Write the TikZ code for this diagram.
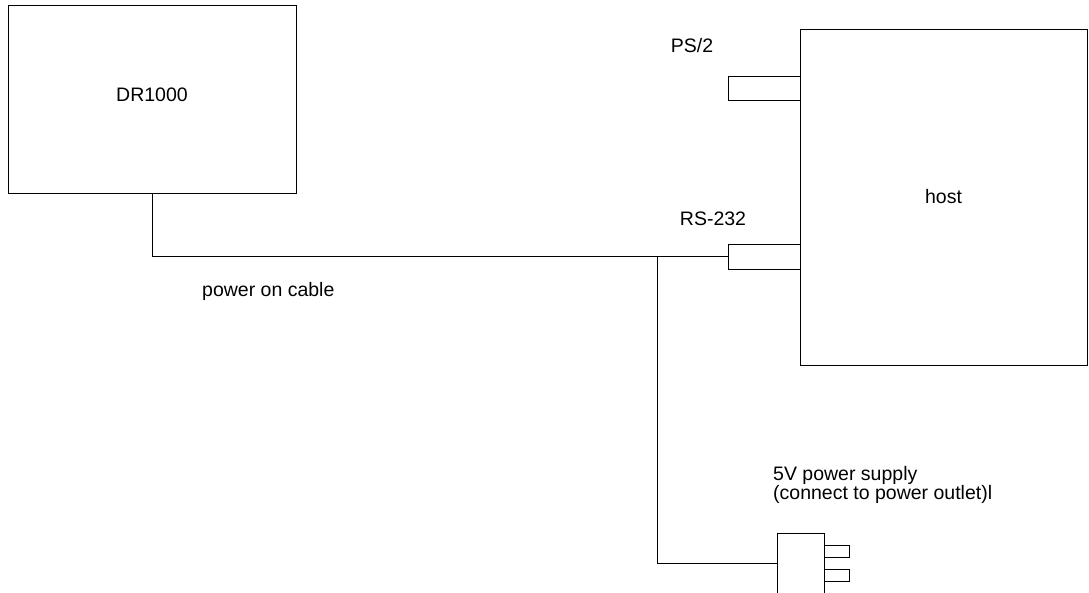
\documentclass[tikz,border=0pt]{standalone}
\usepackage{fontspec}
\setmainfont{Liberation Sans}
\usepackage{tikz}
\usetikzlibrary{positioning,calc}

\begin{document}
\begin{tikzpicture}[x=1pt,y=-1pt,
  box/.style={draw,line width=0.8pt,inner sep=0pt,outer sep=0pt},
  lb/.style={font=\fontsize{19.5}{19}\selectfont,inner sep=0pt},
  wire/.style={line width=0.8pt}]
\useasboundingbox (0,0) rectangle (1089,592);
% devices
\node[box,minimum width=288pt,minimum height=188pt,lb] (dr) at (152,99) {};
\node[lb] (drlb) at (152,95) {DR1000};
\node[box,minimum width=287pt,minimum height=336pt,lb] (host) at (943.5,197) {host};
% ports on the host
\node[box,minimum width=72pt,minimum height=24pt] (ps) at (764,88) {};
\node[lb] (pslb) at (692,46) {PS/2};
\node[box,minimum width=72pt,minimum height=25pt] (rs) at (764,256.5) {};
\node[lb] (rslb) at (713,219) {RS-232};
% power supply
\node[box,minimum width=47pt,minimum height=60pt] (psu) at (800.5,563) {};
\node[box,minimum width=25pt,minimum height=12pt,right=0pt of psu.east,anchor=west,yshift=12pt] (pa) {};
\node[box,minimum width=25pt,minimum height=12pt,right=0pt of psu.east,anchor=west,yshift=-12pt] (pb) {};
\node[lb,anchor=north west,align=left] (psulb) at (773,466) {5V power supply\\(connect to power outlet)l};
% cable
\coordinate (jn) at (657,257);
\draw[wire] (dr.south) |- (rs.west);
\draw[wire] (jn) |- (psu.west);
\node[lb,anchor=west] (cablb) at (202,291) {power on cable};
\end{tikzpicture}
\end{document}
